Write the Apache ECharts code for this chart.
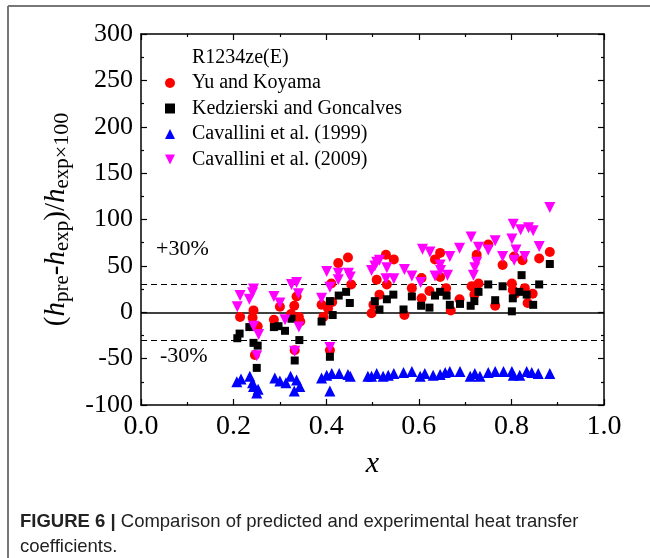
<!DOCTYPE html>
<html>
<head>
<meta charset="utf-8">
<script src="https://cdn.jsdelivr.net/npm/echarts@6/dist/echarts.min.js"></script>
<style>
  html, body { margin: 0; padding: 0; background: #fff; }
  #chart { width: 650px; height: 558px; }
</style>
</head>
<body>
<div id="chart"></div>
<script>
// Deviation of predicted vs. experimental heat transfer coefficient, R1234ze(E)
// Each point: [vapour quality x, (h_pre - h_exp)/h_exp x 100]

const yuKoyama = [
  [0.214,-5],[0.243,2],[0.241,-6],[0.252,-15],[0.246,-46],
  [0.287,-8],[0.300,6],[0.324,-2],[0.331,7],[0.336,17],[0.341,-5],[0.344,-10],[0.332,-41],
  [0.390,8],[0.394,-5],[0.404,4],[0.413,11],[0.411,31],[0.426,53],[0.447,59],[0.454,30],[0.408,-41],
  [0.498,-1],[0.502,8],[0.509,35],[0.515,19],[0.529,62],[0.531,30],[0.546,57],[0.569,-3],
  [0.585,26],[0.606,37],[0.606,15],[0.623,23],[0.635,57],[0.646,64],[0.646,38],[0.659,26],
  [0.669,2],[0.688,14],[0.714,28],[0.720,19],[0.725,62],[0.729,31],[0.750,73],[0.765,7],
  [0.781,51],[0.801,31],[0.803,24],[0.806,60],[0.808,20],[0.824,56],[0.829,26],[0.835,10],
  [0.846,20],[0.860,58],[0.883,65]
];

const kedzierskiGoncalves = [
  [0.213,-23],[0.208,-28],[0.234,-16],[0.243,-33],[0.252,-36],[0.250,-60],
  [0.287,-16],[0.297,-15],[0.311,-20],[0.325,-7],[0.342,-30],[0.332,-52],
  [0.390,-10],[0.408,12],[0.414,-3],[0.427,18],[0.443,22],[0.451,10],[0.408,-48],
  [0.505,12],[0.515,3],[0.531,14],[0.545,19],[0.567,3],[0.585,17],[0.605,7],[0.623,5],
  [0.635,18],[0.646,22],[0.660,18],[0.667,8],[0.689,9],[0.712,7],[0.720,12],[0.729,22],
  [0.750,30],[0.765,13],[0.781,28],[0.801,1],[0.803,15],[0.817,22],[0.822,40],[0.833,19],
  [0.847,8],[0.860,30],[0.883,52]
];

const cavallini1999 = [
  [0.207,-75],[0.216,-72],[0.235,-69],[0.241,-76],[0.243,-80],[0.250,-87],[0.253,-83],
  [0.289,-71],[0.300,-74],[0.313,-76],[0.323,-69],[0.331,-85],[0.336,-73],[0.343,-80],
  [0.390,-71],[0.401,-68],[0.412,-66],[0.428,-66],[0.447,-67],[0.452,-69],[0.408,-85],
  [0.490,-69],[0.498,-69],[0.509,-66],[0.523,-69],[0.534,-68],[0.546,-66],[0.567,-65],
  [0.585,-64],[0.603,-69],[0.613,-66],[0.631,-68],[0.646,-67],[0.657,-65],[0.667,-64],
  [0.689,-64],[0.711,-69],[0.721,-66],[0.732,-69],[0.750,-65],[0.765,-64],[0.783,-64],
  [0.801,-64],[0.804,-68],[0.818,-68],[0.833,-64],[0.844,-65],[0.858,-66],[0.883,-66]
];

const cavallini2009 = [
  [0.214,18],[0.208,6],[0.234,14],[0.241,21],[0.243,25],[0.243,-15],[0.254,-24],[0.250,-47],
  [0.287,17],[0.300,10],[0.311,-8],[0.325,30],[0.336,32],[0.340,20],[0.341,-16],[0.332,-42],
  [0.390,15],[0.401,44],[0.408,27],[0.426,35],[0.426,42],[0.448,42],[0.452,38],[0.408,-38],
  [0.498,45],[0.509,54],[0.505,50],[0.515,56],[0.531,48],[0.529,36],[0.546,36],[0.569,46],
  [0.585,39],[0.604,32],[0.608,68],[0.624,65],[0.635,39],[0.646,51],[0.647,45],[0.662,40],
  [0.667,60],[0.688,69],[0.713,81],[0.718,40],[0.721,48],[0.725,54],[0.729,70],[0.750,67],
  [0.765,77],[0.781,60],[0.801,79],[0.804,95],[0.806,56],[0.810,67],[0.820,89],[0.829,60],
  [0.837,91],[0.847,88],[0.860,71],[0.883,113]
];

// Reference deviation levels (solid zero line, dashed ±30 % band)
const zeroLevel = 0;
const bandLevels = [30, -30];

const xTicks = { min: 0, max: 1, interval: 0.2 };
const yTicks = { min: -100, max: 300, interval: 50 };

const serif = "'Liberation Serif', 'Times New Roman', serif";
const sans = "'Liberation Sans', Arial, Helvetica, sans-serif";

// downward-pointing triangle, same box as the built-in 'triangle'
const invTriangle = 'path://M0,0L10,0L5,10Z';

const chart = echarts.init(document.getElementById('chart'), null, { renderer: 'canvas' });

const axisLineStyle = { color: '#000', width: 1.5 };
const tickStyle = { color: '#000', width: 1.2 };

function xAxisDef(position, showLabel) {
  return {
    type: 'value', position: position,
    min: xTicks.min, max: xTicks.max, interval: xTicks.interval,
    axisLine: { show: true, onZero: false, lineStyle: axisLineStyle },
    axisTick: { show: true, inside: true, length: 6, lineStyle: tickStyle },
    minorTick: { show: true, splitNumber: 2, length: 3, lineStyle: tickStyle },
    splitLine: { show: false },
    axisLabel: {
      show: showLabel, fontFamily: serif, fontSize: 28, color: '#000', margin: 8,
      formatter: v => v.toFixed(1)
    }
  };
}

function yAxisDef(position, showLabel) {
  return {
    type: 'value', position: position,
    min: yTicks.min, max: yTicks.max, interval: yTicks.interval,
    axisLine: { show: true, onZero: false, lineStyle: axisLineStyle },
    axisTick: { show: true, inside: true, length: 6, lineStyle: tickStyle },
    minorTick: { show: true, splitNumber: 2, length: 3, lineStyle: tickStyle },
    splitLine: { show: false },
    axisLabel: { show: showLabel, fontFamily: serif, fontSize: 26, color: '#000', margin: 8 }
  };
}

const xBottom = xAxisDef('bottom', true);
xBottom.name = 'x';
xBottom.nameLocation = 'middle';
xBottom.nameGap = 44;
xBottom.nameTextStyle = { fontFamily: serif, fontStyle: 'italic', fontSize: 30, color: '#000' };

const yLeft = yAxisDef('left', true);
yLeft.name = '{p|(}{h|h}{lo|pre}{p|-}{h|h}{lo|exp}{p|)/}{h|h}{lo|exp}{hi|×100}';
yLeft.nameLocation = 'middle';
yLeft.nameRotate = 90;
yLeft.nameGap = 68;
yLeft.nameTextStyle = {
  color: '#000',
  fontFamily: serif,
  fontSize: 29,
  rich: {
    p: { fontFamily: serif, fontSize: 29, lineHeight: 34, color: '#000' },
    h: { fontFamily: serif, fontSize: 29, fontStyle: 'italic', lineHeight: 34, color: '#000' },
    lo: { fontFamily: serif, fontSize: 21, lineHeight: 18, verticalAlign: 'bottom', color: '#000' },
    hi: { fontFamily: serif, fontSize: 22, lineHeight: 30, verticalAlign: 'bottom', color: '#000' }
  }
};

const refLine = [{ yAxis: zeroLevel, lineStyle: { type: 'solid', color: '#000', width: 1.5 } }]
  .concat(bandLevels.map(v => ({ yAxis: v, lineStyle: { type: [6, 4], color: '#000', width: 1.2 } })));

chart.setOption({
  animation: false,
  backgroundColor: '#fff',
  grid: { left: 141, right: 46, top: 34, bottom: 153, containLabel: false },
  title: {
    text: 'R1234ze(E)', left: 192, top: 48, padding: 0,
    textStyle: { fontFamily: serif, fontSize: 20, fontWeight: 'normal', color: '#000' }
  },
  legend: {
    orient: 'vertical', left: 165, top: 73, padding: 0,
    itemWidth: 10, itemHeight: 10, itemGap: 5.5,
    data: ['Yu and Koyama', 'Kedzierski and Goncalves', 'Cavallini et al. (1999)', 'Cavallini et al. (2009)'],
    textStyle: { fontFamily: serif, fontSize: 20, lineHeight: 20, color: '#000', padding: [0, 0, 0, 12] }
  },
  xAxis: [xBottom, xAxisDef('top', false)],
  yAxis: [yLeft, yAxisDef('right', false)],
  graphic: [
    { type: 'line', shape: { x1: 8, y1: 6, x2: 8, y2: 558 }, style: { stroke: '#777', lineWidth: 2 } },
    { type: 'line', shape: { x1: 8, y1: 6, x2: 650, y2: 6 }, style: { stroke: '#777', lineWidth: 2 } },
    { type: 'text', left: 156, top: 238, style: { text: '+30%', font: '22px ' + serif, fill: '#000' } },
    { type: 'text', left: 160, top: 345, style: { text: '-30%', font: '22px ' + serif, fill: '#000' } },
    {
      type: 'text', left: 20, top: 509,
      style: {
        text: '{b|FIGURE 6 |} Comparison of predicted and experimental heat transfer\ncoefficients.',
        font: '18.5px ' + sans, fill: '#222', lineHeight: 25,
        rich: { b: { font: 'bold 18.5px ' + sans, fill: '#222', lineHeight: 25 } }
      }
    }
  ],
  series: [
    {
      name: 'Yu and Koyama', type: 'scatter', xAxisIndex: 0, yAxisIndex: 0,
      symbol: 'circle', symbolSize: 10,
      itemStyle: { color: '#ff0000', opacity: 1 },
      data: yuKoyama,
      markLine: { silent: true, symbol: 'none', label: { show: false }, data: refLine, z: 1 }
    },
    {
      name: 'Kedzierski and Goncalves', type: 'scatter', xAxisIndex: 0, yAxisIndex: 0,
      symbol: 'rect', symbolSize: 8,
      itemStyle: { color: '#000000', opacity: 1 },
      data: kedzierskiGoncalves
    },
    {
      name: 'Cavallini et al. (1999)', type: 'scatter', xAxisIndex: 0, yAxisIndex: 0,
      symbol: 'triangle', symbolSize: 11,
      itemStyle: { color: '#0000ff', opacity: 1 },
      data: cavallini1999
    },
    {
      name: 'Cavallini et al. (2009)', type: 'scatter', xAxisIndex: 0, yAxisIndex: 0,
      symbol: invTriangle, symbolSize: 11,
      itemStyle: { color: '#ff00ff', opacity: 1 },
      data: cavallini2009
    }
  ]
});
</script>
</body>
</html>
